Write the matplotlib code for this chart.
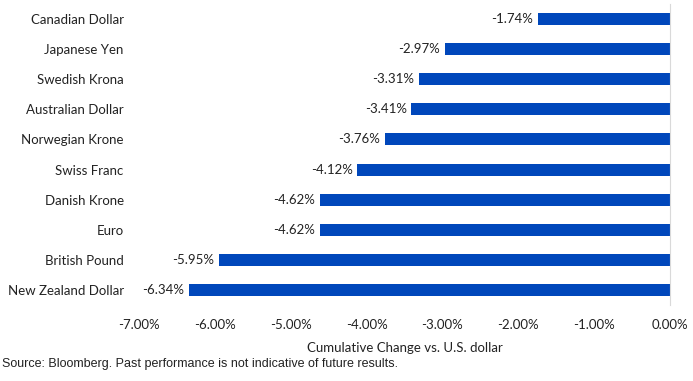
import matplotlib.pyplot as plt
from matplotlib.ticker import FuncFormatter

currencies = ["Canadian Dollar", "Japanese Yen", "Swedish Krona", "Australian Dollar",
              "Norwegian Krone", "Swiss Franc", "Danish Krone", "Euro",
              "British Pound", "New Zealand Dollar"]
changes = [-1.74, -2.97, -3.31, -3.41, -3.76, -4.12, -4.62, -4.62, -5.95, -6.34]
ticks = [-7, -6, -5, -4, -3, -2, -1, 0]

font = "Lato"
fs = 9.5
fig = plt.figure(figsize=(6.93, 3.81), dpi=100)
ax = fig.add_axes([0.2006, 0.199, 0.7662, 0.791])

ypos = list(range(len(currencies)))
ax.barh(ypos, changes, height=0.4, color="#0047BB")
ax.set_ylim(len(currencies) - 0.5, -0.5)
ax.set_xlim(-7, 0)
ax.set_yticks(ypos)
ax.set_yticklabels(currencies, fontfamily=font, fontsize=fs, color="#222222")
ax.set_xticks(ticks)
ax.xaxis.set_major_formatter(FuncFormatter(lambda v, p: f"{v:.2f}%"))
for lbl in ax.get_xticklabels():
    lbl.set_fontfamily(font)
    lbl.set_fontsize(fs)
    lbl.set_color("#222222")
ax.tick_params(axis="both", length=0)
ax.tick_params(axis="y", pad=11)
ax.tick_params(axis="x", pad=10)

for y, v in zip(ypos, changes):
    ax.text(v - 0.06, y, f"{v:.2f}%", ha="right", va="center",
            fontfamily=font, fontsize=fs, color="#222222")

for s in ["top", "left", "bottom"]:
    ax.spines[s].set_visible(False)
ax.spines["right"].set_color("#d9d9d9")

ax.set_xlabel("Cumulative Change vs. U.S. dollar", fontfamily=font, fontsize=fs,
              color="#222222", labelpad=8)

fig.text(0.003, 0.044, "Source: Bloomberg. Past performance is not indicative of future results.",
         fontfamily="Liberation Sans", fontsize=9, color="#222222", va="center")

fig.savefig("out.png", dpi=100)
